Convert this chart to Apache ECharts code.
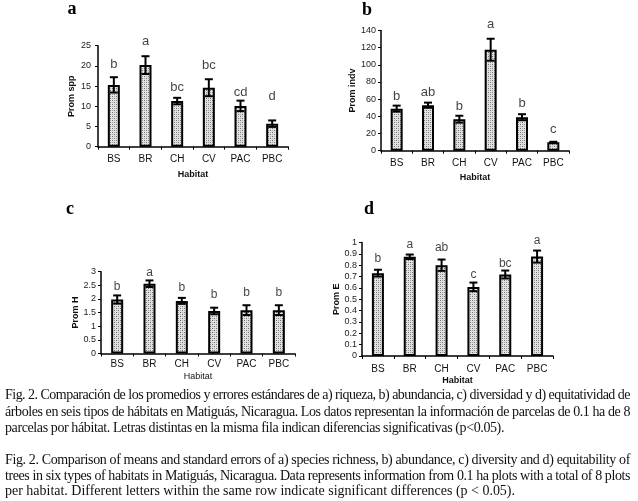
<!DOCTYPE html>
<html>
<head>
<meta charset="utf-8">
<script src="https://cdn.jsdelivr.net/npm/echarts@6/dist/echarts.min.js"></script>
<style>
  html, body { margin:0; padding:0; background:#fff; }
  #wrap { position:relative; width:638px; height:501px; overflow:hidden; }
  #chart { position:absolute; left:0; top:0; width:638px; height:501px; }
  .cap { position:absolute; left:5px; font-family:"Liberation Serif","Times New Roman",serif; font-size:14px; color:#111; white-space:nowrap; line-height:16px; }
</style>
</head>
<body>
<div id="wrap">
  <div id="chart"></div>
  <div class="cap" data-t="625" data-j="1" style="top:387px">Fig. 2. Comparación de los promedios y errores estándares de a) riqueza, b) abundancia, c) diversidad y d) equitatividad de</div>
  <div class="cap" data-t="625" data-j="1" style="top:404px">árboles en seis tipos de hábitats en Matiguás, Nicaragua. Los datos representan la información de parcelas de 0.1 ha de 8</div>
  <div class="cap" data-t="499" data-j="0" style="top:420px">parcelas por hábitat. Letras distintas en la misma fila indican diferencias significativas (p&lt;0.05).</div>
  <div class="cap" data-t="625" data-j="1" style="top:452px">Fig. 2. Comparison of means and standard errors of a) species richness, b) abundance, c) diversity and d) equitability of</div>
  <div class="cap" data-t="625" data-j="1" style="top:468px">trees in six types of habitats in Matiguás, Nicaragua. Data represents information from 0.1 ha plots with a total of 8 plots</div>
  <div class="cap" data-t="510" data-j="0" style="top:483px">per habitat. Different letters within the same row indicate significant differences (p &lt; 0.05).</div>
</div>
<script>
// ---------- data ----------
const categories = ['BS', 'BR', 'CH', 'CV', 'PAC', 'PBC'];

const sppMean = [15.3, 20.2, 11.3, 14.6, 10.1, 5.7];
const sppErr = [1.9, 2.2, 0.8, 2.1, 1.3, 0.8];
const sppLetters = ['b', 'a', 'bc', 'bc', 'cd', 'd'];
const sppLetterY = [20.4, 26.0, 14.6, 20.0, 13.4, 12.5];

const indvMean = [49, 53, 36.7, 117.6, 39, 9.7];
const indvErr = [3.5, 3, 4, 12.8, 3.5, 0.7];
const indvLetters = ['b', 'ab', 'b', 'a', 'b', 'c'];
const indvLetterY = [63.8, 68.1, 51.3, 146.6, 55.3, 25.1];

const hMean = [1.98, 2.56, 1.93, 1.56, 1.59, 1.59];
const hErr = [0.15, 0.12, 0.11, 0.12, 0.18, 0.18];
const hLetters = ['b', 'a', 'b', 'b', 'b', 'b'];
const hLetterY = [2.44, 2.98, 2.42, 2.17, 2.22, 2.22];

const eMean = [0.73, 0.874, 0.8, 0.609, 0.718, 0.876];
const eErr = [0.03, 0.02, 0.05, 0.038, 0.035, 0.053];
const eLetters = ['b', 'a', 'ab', 'c', 'bc', 'a'];
const eLetterY = [0.86, 0.982, 0.95, 0.716, 0.815, 1.02];

const panelLabels = ['a', 'b', 'c', 'd'];
const yNames = ['Prom spp', 'Prom indv', 'Prom H', 'Prom E'];
const xName = 'Habitat';

// ---------- pattern ----------
const pc = document.createElement('canvas');
pc.width = 4; pc.height = 4;
const px = pc.getContext('2d');
px.fillStyle = '#e2e2e2'; px.fillRect(0, 0, 4, 4);
px.fillStyle = '#6e6e6e';
px.fillRect(0, 0, 1, 1); px.fillRect(2, 2, 1, 1);
px.fillStyle = '#a8a8a8';
px.fillRect(2, 0, 1, 1); px.fillRect(0, 2, 1, 1);
const barFill = { image: pc, repeat: 'repeat' };

const FONT = 'Liberation Sans, Arial, sans-serif';

const panels = [
  { mean: sppMean, err: sppErr, letters: sppLetters, ly: sppLetterY,
    grid: { left: 98, top: 45.7, width: 190, height: 101 }, min: 0, max: 25, interval: 5,
    yGap: 22, xGap: 23, xMargin: 8, yMargin: 7, letterSize: 13, nameBold: true, dec: 0 },
  { mean: indvMean, err: indvErr, letters: indvLetters, ly: indvLetterY,
    grid: { left: 381, top: 30.5, width: 188, height: 120.2 }, min: 0, max: 140, interval: 20,
    yGap: 23, xGap: 22, xMargin: 8, yMargin: 5, letterSize: 13, nameBold: true, dec: 0 },
  { mean: hMean, err: hErr, letters: hLetters, ly: hLetterY,
    grid: { left: 101, top: 271.7, width: 194, height: 81.8 }, min: 0, max: 3, interval: 0.5,
    yGap: 20, xGap: 19, xMargin: 6, yMargin: 5, letterSize: 12, nameBold: false, dec: 1 },
  { mean: eMean, err: eErr, letters: eLetters, ly: eLetterY,
    grid: { left: 362, top: 242.5, width: 191, height: 113.5 }, min: 0, max: 1, interval: 0.1,
    yGap: 21, xGap: 20, xMargin: 8, yMargin: 5, letterSize: 12, nameBold: true, dec: 1 }
];

function errRender(params, api) {
  const c = api.value(0);
  const lo = api.coord([c, api.value(1)]);
  const hi = api.coord([c, api.value(2)]);
  const w = 4;
  const st = { stroke: '#000', lineWidth: 2 };
  return {
    type: 'group',
    children: [
      { type: 'line', shape: { x1: lo[0], y1: lo[1], x2: hi[0], y2: hi[1] }, style: st },
      { type: 'line', shape: { x1: hi[0] - w, y1: hi[1], x2: hi[0] + w, y2: hi[1] }, style: st },
      { type: 'line', shape: { x1: lo[0] - w, y1: lo[1], x2: lo[0] + w, y2: lo[1] }, style: st }
    ]
  };
}

const grid = [], xAxis = [], yAxis = [], series = [];
panels.forEach((p, i) => {
  grid.push(Object.assign({ containLabel: false }, p.grid));
  xAxis.push({
    type: 'category', gridIndex: i, data: categories,
    name: xName, nameLocation: 'middle', nameGap: p.xGap,
    nameTextStyle: { fontFamily: FONT, fontSize: 9, fontWeight: p.nameBold ? 'bold' : 'normal', color: '#111' },
    axisLine: { lineStyle: { color: '#000', width: 1.5 } },
    axisTick: { show: true, length: 3, lineStyle: { color: '#000' } },
    axisLabel: { fontFamily: FONT, fontSize: 10, color: '#111', margin: p.xMargin },
    splitLine: { show: false }
  });
  yAxis.push({
    type: 'value', gridIndex: i, min: p.min, max: p.max, interval: p.interval,
    name: yNames[i], nameLocation: 'middle', nameGap: p.yGap,
    nameTextStyle: { fontFamily: FONT, fontSize: 9, fontWeight: 'bold', color: '#111' },
    axisLine: { show: true, lineStyle: { color: '#000', width: 1.5 } },
    axisTick: { show: true, length: 3, lineStyle: { color: '#000' } },
    axisLabel: { fontFamily: FONT, fontSize: 9, color: '#222', margin: p.yMargin,
      formatter: v => String(parseFloat(v.toFixed(p.dec))) },
    splitLine: { show: false }
  });
  series.push({
    type: 'bar', xAxisIndex: i, yAxisIndex: i, data: p.mean, barWidth: 12,
    itemStyle: { color: barFill, borderColor: '#000', borderWidth: 2 }, silent: true
  });
  series.push({
    type: 'custom', xAxisIndex: i, yAxisIndex: i, renderItem: errRender, z: 5, silent: true,
    data: p.mean.map((m, k) => [k, m - p.err[k], m + p.err[k]])
  });
  series.push({
    type: 'scatter', xAxisIndex: i, yAxisIndex: i, symbolSize: 1, clip: false, silent: true,
    itemStyle: { color: 'rgba(0,0,0,0)' },
    label: { show: true, position: 'inside', formatter: q => q.data[2],
      fontFamily: FONT, fontSize: p.letterSize, color: '#111' },
    data: p.ly.map((y, k) => [k, y, p.letters[k]])
  });
});

const labelPos = [[72, 9], [367, 10], [70, 209], [369, 209]];
const graphic = panelLabels.map((t, i) => ({
  type: 'text', x: labelPos[i][0], y: labelPos[i][1],
  style: { text: t, font: 'bold 18px "Liberation Serif", "Times New Roman", serif', fill: '#000',
    textAlign: 'center', textVerticalAlign: 'middle' }
}));

const chart = echarts.init(document.getElementById('chart'), null, { renderer: 'canvas' });
chart.setOption({ animation: false, grid, xAxis, yAxis, series, graphic });

// fit caption lines to the widths seen in the reference
document.querySelectorAll('.cap').forEach(el => {
  const target = parseFloat(el.dataset.t);
  const text = el.textContent;
  const w = el.getBoundingClientRect().width;
  const spaces = (text.match(/ /g) || []).length;
  const chars = text.length;
  if (el.dataset.j === '1' && w <= target) {
    el.style.wordSpacing = ((target - w) / spaces) + 'px';
  } else {
    el.style.letterSpacing = ((target - w) / chars) + 'px';
  }
});
</script>
</body>
</html>
